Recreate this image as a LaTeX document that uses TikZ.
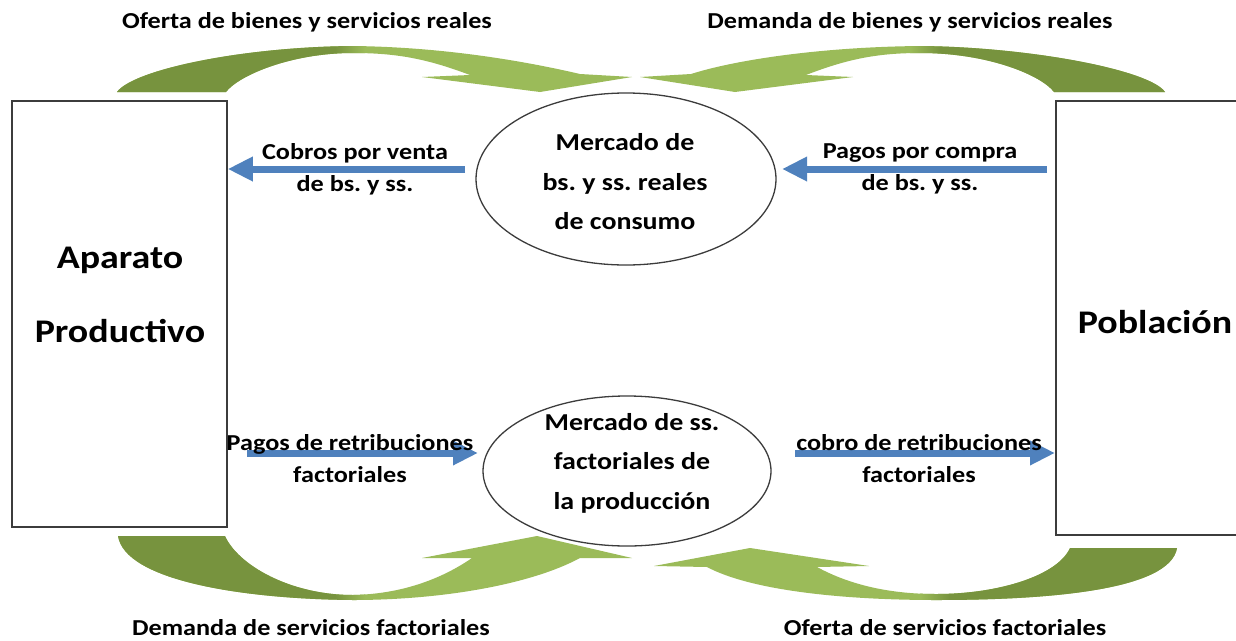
\documentclass[tikz,border=0pt]{standalone}
\usepackage{fontspec}
\setmainfont{Carlito}
\newfontfamily\cf[FakeStretch=1.15]{Carlito}
\usetikzlibrary{arrows.meta,shapes.geometric}
\definecolor{gdark}{RGB}{119,147,62}
\definecolor{glight}{RGB}{155,187,89}
\definecolor{bluec}{RGB}{79,129,189}
\definecolor{linec}{RGB}{60,60,60}
\frenchspacing
\begin{document}
\begin{tikzpicture}[x=1pt,y=-1pt,
  lbl/.style={font=\cf\bfseries\frenchspacing\fontsize{22.8}{32}\selectfont, inner sep=0pt, align=center},
  etext/.style={font=\cf\bfseries\frenchspacing\fontsize{24.3}{39.5}\selectfont, inner sep=0pt, align=center},
  btext/.style={font=\cf\bfseries\fontsize{33}{74}\selectfont, inner sep=0pt, align=center},
  boxn/.style={draw=linec, line width=1.5pt, inner sep=0pt, fill=white},
  elln/.style={draw=linec, line width=1.3pt, ellipse, inner sep=0pt, fill=white},
  barrow/.style={draw=bluec, line width=7pt, -{Triangle[width=23pt,length=25pt]}}]
\useasboundingbox (0,0) rectangle (1236,640);

% green curved arrows
% top-left
\begin{scope}
\clip (117,92) .. controls (133,70) and (240,47) .. (353,46) .. controls (440,47) and (520,60) .. (580,74) -- (632,77) -- (540,92) -- (422,77) -- (470,75) .. controls (430,60) and (400,53) .. (353,53) .. controls (290,53) and (238,76) .. (226,92) -- cycle;
\fill[glight] (100,30) rectangle (650,100);
\fill[gdark] (100,30) rectangle (335,100);
\shade[left color=gdark,right color=glight] (335,30) rectangle (365,100);
\end{scope}
% top-right
\begin{scope}
\clip (1165,92) .. controls (1150,70) and (1030,47) .. (920,46) .. controls (820,47) and (735,60) .. (691,74) -- (640,77) -- (735,92) -- (853,77) -- (806,75) .. controls (845,60) and (875,53) .. (920,53) .. controls (990,53) and (1042,76) .. (1054,92) -- cycle;
\fill[glight] (630,30) rectangle (1180,100);
\fill[gdark] (940,30) rectangle (1180,100);
\shade[left color=glight,right color=gdark] (910,30) rectangle (940,100);
\end{scope}
% bottom-left
\begin{scope}
\clip (118,536) .. controls (125,580) and (240,599) .. (353,600) .. controls (440,600) and (530,585) .. (580,558) -- (632,558) -- (537,536) -- (422,558) -- (472,558) .. controls (440,580) and (400,594) .. (353,595) .. controls (290,595) and (238,565) .. (225,536) -- cycle;
\fill[glight] (100,530) rectangle (650,610);
\fill[gdark] (100,530) rectangle (335,610);
\shade[left color=gdark,right color=glight] (335,530) rectangle (365,610);
\end{scope}
% bottom-right
\begin{scope}
\clip (1177,548) .. controls (1170,590) and (1050,600) .. (936,600) .. controls (840,600) and (750,590) .. (707,567) -- (654,566) -- (750,548) -- (869,566) -- (817,567) .. controls (850,585) and (890,594) .. (936,594) .. controls (1000,594) and (1058,575) .. (1070,548) -- cycle;
\fill[glight] (640,540) rectangle (1190,610);
\fill[gdark] (950,540) rectangle (1190,610);
\shade[left color=glight,right color=gdark] (920,540) rectangle (950,610);
\end{scope}

% boxes
\node[boxn, minimum width=215pt, minimum height=426pt] (ap) at (119.5,314) {};
\node[boxn, minimum width=195pt, minimum height=434pt, anchor=north west] (pob) at (1055,100) {};
\node[btext] (aptext) at (120,295) {Aparato\\Productivo};
\node[btext] (pobtext) at (1155,322) {Población};

% ellipses
\node[elln, minimum width=300pt, minimum height=172pt] (mc) at (626,179) {};
\node[elln, minimum width=288pt, minimum height=150pt] (mf) at (627,471) {};
\node[etext] (mctext) at (625,182) {Mercado de\\bs. y ss. reales\\de consumo};
\node[etext] (mftext) at (632,463) {Mercado de ss.\\factoriales de\\la producción};

% blue arrows
\coordinate (a1) at (465,169);
\coordinate (a2) at (1047,169);
\coordinate (a3) at (247,453);
\coordinate (a4) at (795,453);
\coordinate (a3e) at (478,453);
\coordinate (a2e) at (782,169);
\draw[barrow] (a1) -- (ap.east |- a1);
\draw[barrow] (a2) -- (a2e);
\draw[barrow] (a3) -- (a3e);
\draw[barrow] (a4) -- (pob.west |- a4);

% labels
\node[lbl] (l1) at (355,169) {Cobros por venta\\de bs. y ss.};
\node[lbl] (l2) at (920,169) {Pagos por compra\\de bs. y ss.};
\node[lbl] (l3) at (350,459) {Pagos de retribuciones\\factoriales};
\node[lbl] (l4) at (919,459) {cobro de retribuciones\\factoriales};

\node[lbl] (t1) at (307,22) {Oferta de bienes y servicios reales};
\node[lbl] (t2) at (910,22) {Demanda de bienes y servicios reales};
\node[lbl] (t3) at (311,628) {Demanda de servicios factoriales};
\node[lbl] (t4) at (945,628) {Oferta de servicios factoriales};
\end{tikzpicture}
\end{document}
